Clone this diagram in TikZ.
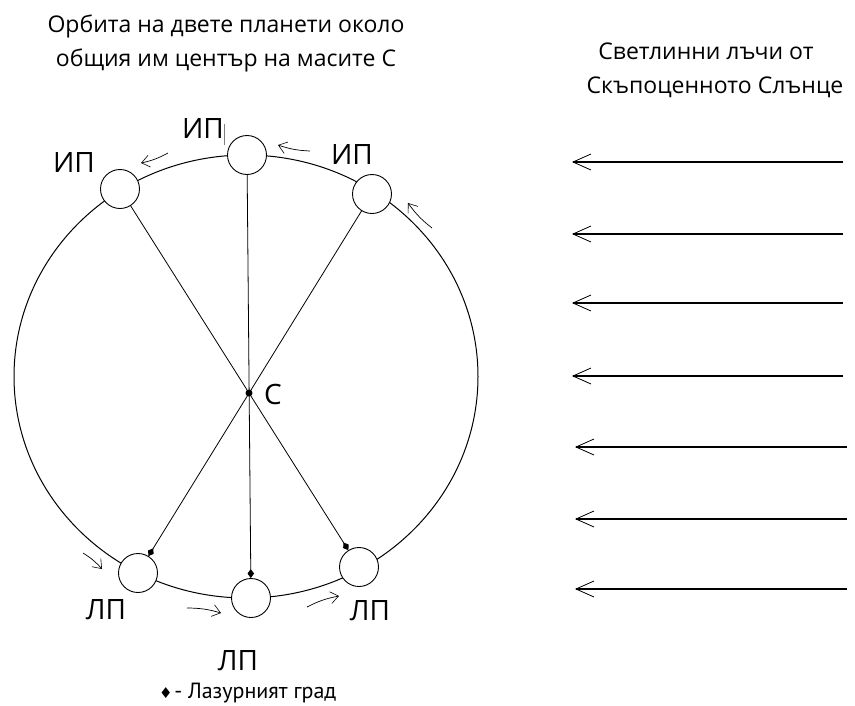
\documentclass[tikz,border=0pt]{standalone}
\usepackage{fontspec}
\setmainfont{Open Sans}
\newfontfamily\legendfont{PT Sans}
\newfontfamily\symfont{DejaVu Sans}
\usetikzlibrary{arrows.meta}
\begin{document}
\begin{tikzpicture}[x=1pt,y=-1pt,
  planet/.style={circle,draw,line width=0.9pt,fill=white,minimum size=39pt,inner sep=0pt},
  lbl/.style={anchor=base,inner sep=0pt,font=\fontsize{23}{27}\selectfont},
  big/.style={anchor=base,inner sep=0pt,font=\fontsize{28}{32}\selectfont},
  ray/.style={line width=1.3pt,-{Straight Barb[length=18pt,width=16pt,line width=0.8pt]}},
  spoke/.style={line width=0.8pt,-{Diamond[length=9pt,width=6.5pt]}},
  motion/.style={line width=0.7pt,-{Straight Barb[length=8pt,width=12pt,line width=0.6pt]}}
]
\useasboundingbox (0,0) rectangle (855,705);
\fill[white] (0,0) rectangle (855,705);
% orbit
\draw[line width=1pt] (246,376.5) ellipse [x radius=232pt, y radius=221.5pt];
% planets
\node[planet] (ptop) at (247,155) {};
\node[planet] (ptl) at (120,189) {};
\node[planet] (ptr) at (372,194) {};
\node[planet] (pbl) at (138,573) {};
\node[planet] (pb) at (251,598) {};
\node[planet] (pbr) at (359,567) {};
% centre of mass
\node[circle,fill,inner sep=0pt,minimum size=7pt] (c) at (249,393) {};
% spokes
\draw[spoke] (ptl) -- (pbr);
\draw[spoke] (ptr) -- (pbl);
\draw[spoke] (ptop) -- (pb);
% motion arrows
\coordinate (m1a) at (168,153); \coordinate (m1b) at (141,163);
\coordinate (m2a) at (310,151); \coordinate (m2b) at (278,145);
\coordinate (m3a) at (432,228); \coordinate (m3b) at (408,203);
\coordinate (m4a) at (83,553);  \coordinate (m4b) at (102,569);
\coordinate (m5a) at (187,608); \coordinate (m5b) at (221,613);
\coordinate (m6a) at (307,607); \coordinate (m6b) at (339,596);
\draw[motion] (m1a) to[bend left=8] (m1b);
\draw[motion] (m2a) to[bend left=8] (m2b);
\draw[motion] (m3a) to[bend left=8] (m3b);
\draw[motion] (m4a) to[bend left=8] (m4b);
\draw[motion] (m5a) to[bend left=8] (m5b);
\draw[motion] (m6a) to[bend left=8] (m6b);
% stray mark
\coordinate (s1) at (224,124); \coordinate (s2) at (224,145);
\draw[line width=0.6pt,gray] (s1) -- (s2);
% labels
\node[big] (l1) at (74,172) {ИП};
\node[big] (l2) at (203,138) {ИП};
\node[big] (l3) at (352,164) {ИП};
\node[big] (l4) at (106,619) {ЛП};
\node[big] (l5) at (238,670) {ЛП};
\node[big] (l6) at (370,620) {ЛП};
\node[big] (lc) at (273,404) {С};
% titles
\node[lbl] (t1) at (226,32) {Орбита на двете планети около};
\node[lbl] (t2) at (226,66) {общия им център на масите С};
\node[lbl] (t3) at (706,59) {Светлинни лъчи от};
\node[lbl] (t4) at (715,93) {Скъпоценното Слънце};
% rays
\foreach \i/\y/\xs/\xe in {1/162/843/572,2/234/843/572,3/303/843/572,4/376/843/572,5/447/847/575,6/519/847/575,7/589/847/575}{
  \coordinate (rs\i) at (\xs,\y); \coordinate (re\i) at (\xe,\y);
  \draw[ray] (rs\i) -- (re\i);
}
% legend
\node[anchor=base west,inner sep=0pt] (leg) at (159,698) {{\symfont\fontsize{15}{18}\selectfont ♦}\,{\legendfont\fontsize{22}{26}\selectfont - Лазурният град}};
\end{tikzpicture}
\end{document}
